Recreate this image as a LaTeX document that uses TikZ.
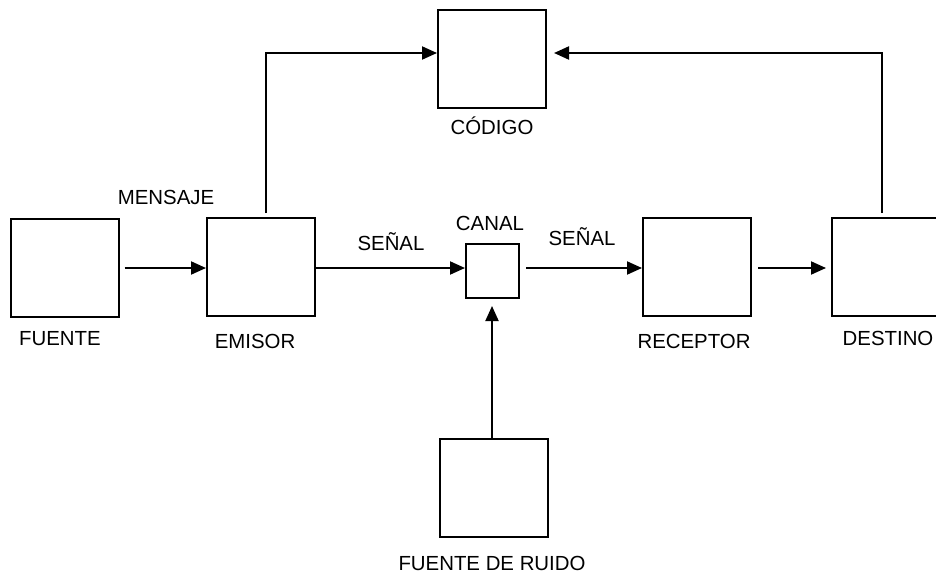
\documentclass[tikz,border=0pt]{standalone}
\usepackage{fontspec}
\setmainfont{Liberation Sans}
\usetikzlibrary{arrows.meta,positioning}

\begin{document}
\begin{tikzpicture}[x=0.5pt,y=-0.5pt,every node/.style={font=\fontsize{10.2}{12}\selectfont},line width=1pt]
\tikzset{caja/.style={draw,fill=white,inner sep=0pt,minimum width=54pt,minimum height=49pt},
  cajita/.style={draw,inner sep=0pt,minimum width=26.5pt,minimum height=27pt},
  flecha/.style={-{Triangle[length=7.5pt,width=6.5pt]}}}
\useasboundingbox (0,0) rectangle (936,573);

% ---------- cajas ----------
\node[caja] (F) at (64.5,268) {};
\node[caja] (E) at (261,267) {};
\node[caja] (C) at (492,58.5) {};
\node[cajita] (K) at (492.5,271) {};
\node[caja] (R) at (697,267) {};
\node[caja,minimum width=64pt] (D) at (896,267) {};
\node[caja] (N) at (494,488) {};

% ---------- textos ----------
\node (tF) at (60,339) {FUENTE};
\node (tE) at (255,341) {EMISOR};
\node (tC) at (492,126) {CÓDIGO};
\node (tK) at (490,223) {CANAL};
\node (tR) at (694,341) {RECEPTOR};
\node (tD) at (888,338) {DESTINO};
\node (tN) at (492,563) {FUENTE DE RUIDO};
\node (tM) at (166,197) {MENSAJE};
\node (s1) at (391,242) {SEÑAL};
\node (s2) at (582,237) {SEÑAL};

% ---------- flechas ----------
\draw[flecha,shorten <=2.5pt] (F.east |- 0,268) -- (E.west |- 0,268);
\draw[flecha] (E.east |- 0,268) -- (K.west |- 0,268);
\draw[flecha,shorten <=3pt] (K.east |- 0,268) -- (R.west |- 0,268);
\draw[flecha,shorten <=3pt,shorten >=2.5pt] (R.east |- 0,268) -- (D.west |- 0,268);
\draw[flecha,shorten >=3.5pt] (N.north -| 492,0) -- (K.south -| 492,0);
\draw[flecha,shorten <=2pt] (E.north -| 266,0) |- (C.west |- 0,53);
\draw[flecha,shorten <=2pt,shorten >=3.5pt] (D.north -| 882,0) |- (C.east |- 0,53);

\end{tikzpicture}
\end{document}
